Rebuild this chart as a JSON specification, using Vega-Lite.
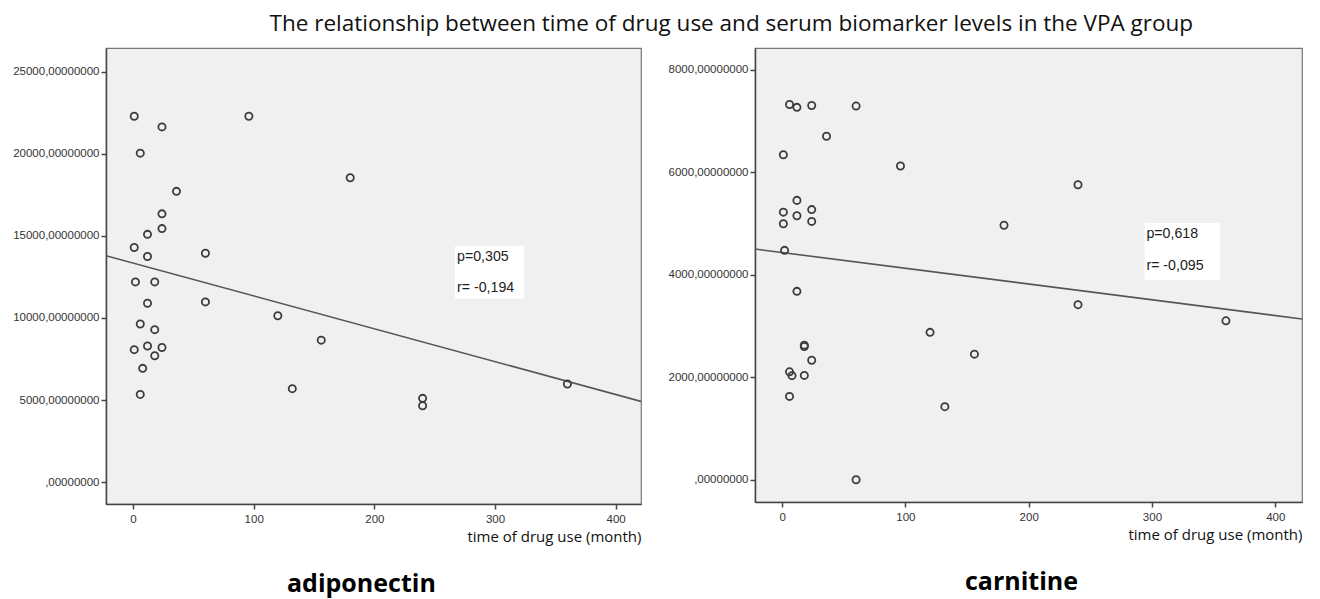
{
  "$schema": "https://vega.github.io/schema/vega-lite/v6.json",
  "padding": {"left": 12, "top": 12, "right": 8, "bottom": 5},
  "background": "white",
  "title": {"text": "The relationship between time of drug use and serum biomarker levels in the VPA group", "font": "Open Sans", "fontSize": 22.5, "fontWeight": "normal", "color": "#111", "anchor": "middle", "dx": 74, "offset": 12},
  "spacing": 25,
  "config": {
    "view": {"fill": "#f0f0f0", "stroke": "#777", "strokeWidth": 1.2},
    "axis": {"domainColor": "#444", "domainWidth": 1.5, "tickColor": "#444", "tickSize": 5, "tickWidth": 1.5, "grid": false, "labelFont": "Liberation Sans", "labelFontSize": 11.5, "labelColor": "#333", "labelPadding": 4, "titleFont": "Open Sans", "titleFontWeight": "normal", "titleFontSize": 15, "titleColor": "#111"}
  },
  "datasets": {
    "adip": [
      {"t": 1, "v": 22300}, {"t": 24, "v": 21650}, {"t": 6, "v": 20050}, {"t": 36, "v": 17720},
      {"t": 24, "v": 16350}, {"t": 24, "v": 15450}, {"t": 12, "v": 15100}, {"t": 1, "v": 14300},
      {"t": 12, "v": 13750}, {"t": 60, "v": 13950}, {"t": 96, "v": 22300}, {"t": 180, "v": 18550},
      {"t": 2, "v": 12200}, {"t": 18, "v": 12200}, {"t": 12, "v": 10900}, {"t": 60, "v": 10980},
      {"t": 120, "v": 10140}, {"t": 156, "v": 8650}, {"t": 6, "v": 9630}, {"t": 18, "v": 9290},
      {"t": 1, "v": 8070}, {"t": 12, "v": 8290}, {"t": 24, "v": 8200}, {"t": 18, "v": 7700},
      {"t": 8, "v": 6930}, {"t": 6, "v": 5340}, {"t": 132, "v": 5690}, {"t": 240, "v": 5100},
      {"t": 240, "v": 4650}, {"t": 360, "v": 5975}
    ],
    "carn": [
      {"t": 6, "v": 7320}, {"t": 12, "v": 7265}, {"t": 24, "v": 7300}, {"t": 60, "v": 7290},
      {"t": 36, "v": 6700}, {"t": 1, "v": 6340}, {"t": 96, "v": 6120}, {"t": 12, "v": 5450},
      {"t": 1, "v": 5220}, {"t": 12, "v": 5150}, {"t": 24, "v": 5270}, {"t": 1, "v": 4995},
      {"t": 24, "v": 5040}, {"t": 2, "v": 4475}, {"t": 12, "v": 3675}, {"t": 120, "v": 2875},
      {"t": 156, "v": 2450}, {"t": 18, "v": 2625}, {"t": 18, "v": 2600}, {"t": 24, "v": 2330},
      {"t": 6, "v": 2105}, {"t": 8, "v": 2030}, {"t": 18, "v": 2035}, {"t": 6, "v": 1625},
      {"t": 132, "v": 1425}, {"t": 60, "v": 0}, {"t": 240, "v": 5755}, {"t": 180, "v": 4965},
      {"t": 240, "v": 3415}, {"t": 360, "v": 3100}
    ],
    "adipLine": [{"t": -22.4, "v": 13800}, {"t": 421, "v": 4915}],
    "carnLine": [{"t": -22, "v": 4500}, {"t": 421.7, "v": 3136}],
    "adipBox": [{"t": 267, "t2": 324, "v": 14410, "v2": 11180}],
    "carnBox": [{"t": 294, "t2": 355, "v": 5010, "v2": 3895}],
    "adipNote": [{"t": 268.5, "v": 13740, "label": "p=0,305"}, {"t": 268.5, "v": 11850, "label": "r= -0,194"}],
    "carnNote": [{"t": 295.5, "v": 4795, "label": "p=0,618"}, {"t": 295.5, "v": 4170, "label": "r= -0,095"}]
  },
  "hconcat": [
    {
      "width": 535,
      "height": 456,
      "title": {"text": "adiponectin", "orient": "bottom", "anchor": "start", "frame": "group", "dx": 181, "font": "Open Sans", "fontSize": 25, "fontWeight": "bold", "color": "#000", "offset": 27},
      "encoding": {
        "x": {"field": "t", "type": "quantitative", "scale": {"domain": [-22.4, 421], "nice": false, "zero": false}, "axis": {"values": [0, 100, 200, 300, 400], "format": "d", "title": "time of drug use (month)", "titleAnchor": "end", "titleAlign": "right", "titlePadding": 5}},
        "y": {"field": "v", "type": "quantitative", "scale": {"domain": [-1340, 26460], "nice": false, "zero": false}, "axis": {"values": [0, 5000, 10000, 15000, 20000, 25000], "labelPadding": 2, "labelExpr": "datum.value == 0 ? ',00000000' : format(datum.value, 'd') + ',00000000'", "title": null}}
      },
      "layer": [
        {"data": {"name": "adipBox"}, "mark": {"type": "rect", "fill": "white"}, "encoding": {"x2": {"field": "t2"}, "y2": {"field": "v2"}}},
        {"data": {"name": "adipNote"}, "mark": {"type": "text", "align": "left", "baseline": "middle", "font": "Liberation Sans", "fontSize": 14.2, "color": "#222"}, "encoding": {"text": {"field": "label"}}},
        {"data": {"name": "adipLine"}, "mark": {"type": "line", "color": "#555", "strokeWidth": 1.6, "clip": true}},
        {"data": {"name": "adip"}, "mark": {"type": "point", "shape": "circle", "filled": false, "stroke": "#3c3c3c", "strokeWidth": 1.8, "size": 52, "opacity": 1}}
      ]
    },
    {
      "width": 547,
      "height": 454,
      "title": {"text": "carnitine", "orient": "bottom", "anchor": "start", "frame": "group", "dx": 210, "font": "Open Sans", "fontSize": 25, "fontWeight": "bold", "color": "#000", "offset": 27},
      "encoding": {
        "x": {"field": "t", "type": "quantitative", "scale": {"domain": [-22, 421.7], "nice": false, "zero": false}, "axis": {"values": [0, 100, 200, 300, 400], "format": "d", "title": "time of drug use (month)", "titleAnchor": "end", "titleAlign": "right", "titlePadding": 5}},
        "y": {"field": "v", "type": "quantitative", "scale": {"domain": [-435, 8423], "nice": false, "zero": false}, "axis": {"values": [0, 2000, 4000, 6000, 8000], "labelPadding": 2, "labelExpr": "datum.value == 0 ? ',00000000' : format(datum.value, 'd') + ',00000000'", "title": null}}
      },
      "layer": [
        {"data": {"name": "carnBox"}, "mark": {"type": "rect", "fill": "white"}, "encoding": {"x2": {"field": "t2"}, "y2": {"field": "v2"}}},
        {"data": {"name": "carnNote"}, "mark": {"type": "text", "align": "left", "baseline": "middle", "font": "Liberation Sans", "fontSize": 14.2, "color": "#222"}, "encoding": {"text": {"field": "label"}}},
        {"data": {"name": "carnLine"}, "mark": {"type": "line", "color": "#555", "strokeWidth": 1.6, "clip": true}},
        {"data": {"name": "carn"}, "mark": {"type": "point", "shape": "circle", "filled": false, "stroke": "#3c3c3c", "strokeWidth": 1.8, "size": 52, "opacity": 1}}
      ]
    }
  ]
}
